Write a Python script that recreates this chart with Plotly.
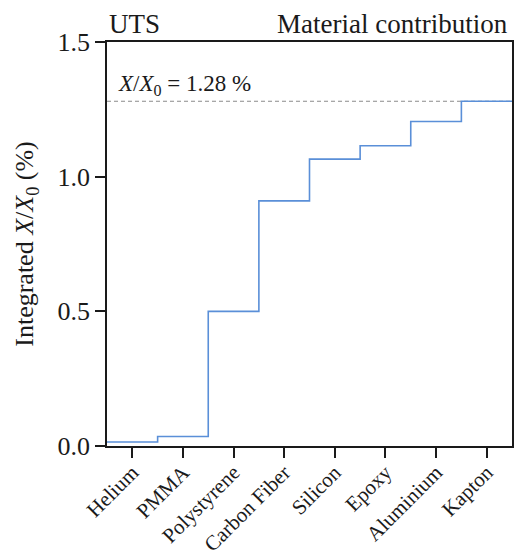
import plotly.graph_objects as go

# Cumulative radiation length per material (in %)
materials = ["Helium", "PMMA", "Polystyrene", "Carbon Fiber", "Silicon",
             "Epoxy", "Aluminium", "Kapton"]
cumulative = [0.015, 0.035, 0.50, 0.91, 1.065, 1.115, 1.205, 1.28]
total = 1.28
y_ticks = [0.0, 0.5, 1.0, 1.5]

serif = "Liberation Serif, Times New Roman, serif"
ink = "#1a1a1a"

# step edges: each material occupies one unit bin centred on its index
x_edges = [i - 0.5 for i in range(len(materials) + 1)]
y_steps = cumulative + [cumulative[-1]]

fig = go.Figure()
fig.add_trace(go.Scatter(
    x=x_edges, y=y_steps, mode="lines", line_shape="hv",
    line=dict(color="#5a8fd8", width=1.6), showlegend=False, hoverinfo="skip",
))

fig.add_shape(type="line", xref="paper", x0=0, x1=1, yref="y", y0=total, y1=total,
              line=dict(color="#8a8a8a", width=1, dash="4px,3px"), layer="below")

fig.add_annotation(xref="paper", x=0.022, yref="y", y=total, yshift=0,
                   text=f"<i>X</i>/<i>X</i><sub>0</sub> = {total:.2f} %",
                   showarrow=False, xanchor="left", yanchor="bottom",
                   font=dict(family=serif, size=23, color=ink))

fig.add_annotation(xref="paper", x=0.0, yref="paper", y=1.0, yshift=1,
                   text="UTS", showarrow=False, xanchor="left", yanchor="bottom",
                   font=dict(family=serif, size=27, color=ink))
fig.add_annotation(xref="paper", x=0.995, yref="paper", y=1.0, yshift=1,
                   text="Material contribution", showarrow=False,
                   xanchor="right", yanchor="bottom",
                   font=dict(family=serif, size=27, color=ink))

fig.update_layout(
    width=514, height=555,
    margin=dict(l=107, r=2, t=42, b=109),
    paper_bgcolor="white", plot_bgcolor="white",
    font=dict(family=serif, color=ink),
    xaxis=dict(
        range=[-0.5, len(materials) - 0.5], automargin=False,
        tickvals=list(range(len(materials))), ticktext=materials,
        tickangle=-45, ticks="outside", ticklen=10, tickwidth=1.6, tickcolor=ink,
        ticklabelstandoff=-6,
        tickfont=dict(family=serif, size=21, color=ink),
        showline=True, linecolor=ink, linewidth=1.8, mirror=True,
        showgrid=False, zeroline=False,
    ),
    yaxis=dict(
        range=[0, 1.5], tickvals=y_ticks, automargin=False,
        ticktext=[f"{v:.1f}" for v in y_ticks],
        ticks="outside", ticklen=10, tickwidth=1.6, tickcolor=ink,
        tickfont=dict(family=serif, size=26, color=ink),
        showline=True, linecolor=ink, linewidth=1.8, mirror=True,
        showgrid=False, zeroline=False,
        title=dict(text="Integrated <i>X</i>/<i>X</i><sub>0</sub> (%)",
                   font=dict(family=serif, size=26, color=ink), standoff=16),
    ),
)

fig.write_html("out.html")
